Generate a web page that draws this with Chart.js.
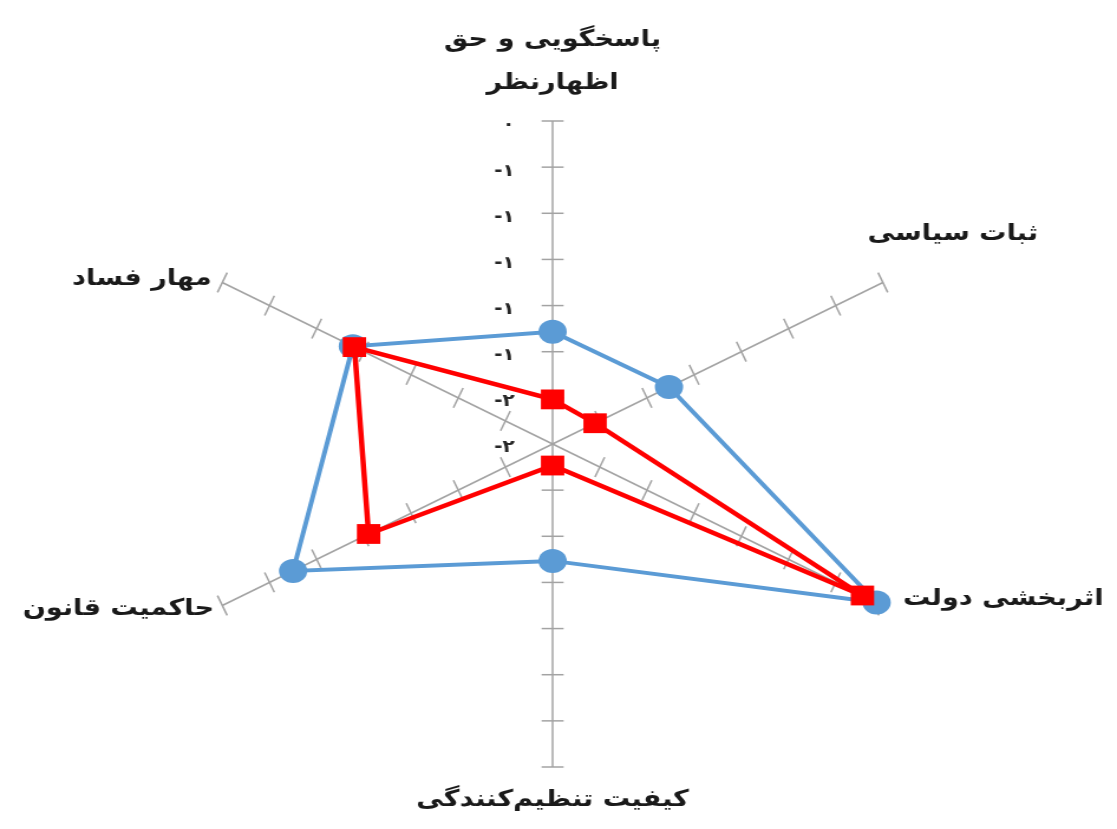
<!DOCTYPE html>
<html>
<head>
<meta charset="utf-8">
<script src="https://cdn.jsdelivr.net/npm/chart.js@4/dist/chart.umd.min.js"></script>
<style>
  html, body { margin: 0; padding: 0; background: #fff; }
</style>
</head>
<body>
<canvas id="chart" width="946" height="829" style="display:block;width:1117px;height:829px"></canvas>
<script>
// governance indicators, two series
const categories = [
  ["پاسخگویی و حق", "اظهارنظر"],
  "ثبات سیاسی",
  "اثربخشی دولت",
  "کیفیت تنظیم‌کنندگی",
  "حاکمیت قانون",
  "مهار فساد"
];
const blueValues = [-1.37, -1.36, -0.04, -1.34, -0.45, -0.83];
const redValues = [-1.81, -1.83, -0.13, -1.96, -0.93, -0.84];
const tickValues = [0, -0.3, -0.6, -0.9, -1.2, -1.5, -1.8, -2.1];
const tickLabels = ["٠", "-۱", "-۱", "-۱", "-۱", "-۱", "-۲", "-۲"];

// canvas is drawn narrower and stretched wide by css, like the original picture
const stretch = 1117 / 946;
const gridColor = "#a3a3a3";
// where each axis title sits, relative to the end of its spoke
const labelPlace = [
  { align: "center", dx: 0, dy: -81 },
  { align: "left", dx: -13, dy: -48 },
  { align: "left", dx: 17, dy: -6 },
  { align: "center", dx: 0, dy: 33 },
  { align: "right", dx: -7, dy: 4 },
  { align: "right", dx: -9, dy: -3 }
];

const spokeTicks = {
  id: "spokeTicks",
  beforeDatasetsDraw(chart) {
    const scale = chart.scales.r;
    const ctx = chart.ctx;
    ctx.save();
    ctx.strokeStyle = gridColor;
    ctx.lineWidth = 1.5;
    for (let i = 0; i < categories.length; i++) {
      const a = scale.getIndexAngle(i) - Math.PI / 2;
      const px = -Math.sin(a), py = stretch * Math.cos(a);
      const len = Math.sqrt(px * px + py * py);
      const half = 11;
      const ux = (px / stretch) / len * half, uy = py / len * half;
      tickValues.forEach((v, k) => {
        if (k === tickValues.length - 1) return;
        const p = scale.getPointPositionForValue(i, v);
        ctx.beginPath();
        ctx.moveTo(p.x - ux, p.y - uy);
        ctx.lineTo(p.x + ux, p.y + uy);
        ctx.stroke();
      });
    }
    // value labels left of the vertical spoke
    ctx.fillStyle = "#262626";
    ctx.font = "bold 17px 'DejaVu Sans'";
    ctx.textAlign = "right";
    ctx.textBaseline = "middle";
    ctx.direction = "ltr";
    tickValues.forEach((v, k) => {
      const p = scale.getPointPositionForValue(0, v);
      ctx.fillText(tickLabels[k], scale.xCenter - 32, p.y + 4);
    });
    ctx.restore();
  },
  afterDraw(chart) {
    const scale = chart.scales.r;
    const ctx = chart.ctx;
    ctx.save();
    ctx.fillStyle = "#1a1a1a";
    ctx.font = "bold 23px 'DejaVu Sans'";
    ctx.textBaseline = "middle";
    chart.data.labels.forEach((lab, i) => {
      const end = scale.getPointPosition(i, scale.drawingArea);
      const pl = labelPlace[i];
      const lines = Array.isArray(lab) ? lab : [lab];
      ctx.textAlign = pl.align;
      lines.forEach((t, j) => {
        ctx.fillText(t, end.x + pl.dx, end.y + pl.dy + j * 43);
      });
    });
    ctx.restore();
  }
};

new Chart(document.getElementById("chart"), {
  type: "radar",
  data: {
    labels: categories,
    datasets: [
      {
        label: "blue",
        data: blueValues,
        borderColor: "#5b9bd5",
        backgroundColor: "#5b9bd5",
        borderWidth: 4,
        pointStyle: "circle",
        pointRadius: 12,
        pointHoverRadius: 12,
        pointBorderWidth: 0,
        fill: false,
        order: 1
      },
      {
        label: "red",
        data: redValues,
        borderColor: "#ff0000",
        backgroundColor: "#ff0000",
        borderWidth: 4.5,
        pointStyle: "rect",
        pointRadius: 14,
        pointHoverRadius: 14,
        pointBorderWidth: 0,
        fill: false,
        order: 0
      }
    ]
  },
  options: {
    responsive: false,
    animation: false,
    layout: { padding: { top: 121, bottom: 62, left: 0, right: 10 } },
    plugins: { legend: { display: false }, tooltip: { enabled: false } },
    elements: { line: { tension: 0 } },
    scales: {
      r: {
        min: -2.1,
        max: 0,
        ticks: { display: false, stepSize: 0.3 },
        grid: { display: false },
        angleLines: { display: true, color: gridColor, lineWidth: 1.5 },
        pointLabels: { display: false }
      }
    }
  },
  plugins: [spokeTicks]
});
</script>
</body>
</html>
